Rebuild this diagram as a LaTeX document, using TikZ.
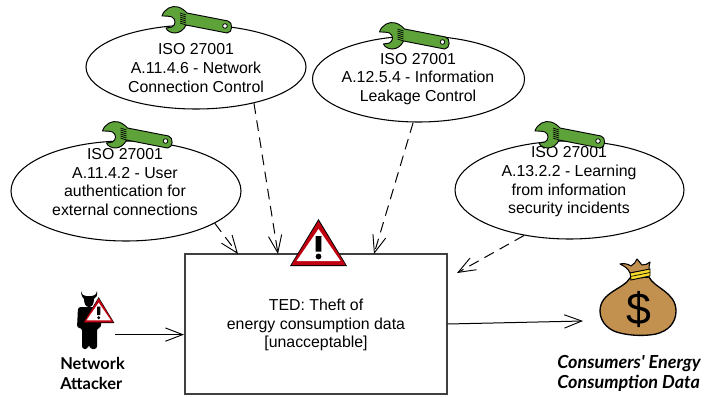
\documentclass[tikz,border=0pt]{standalone}
\usepackage{fontspec}
\setmainfont{Liberation Sans}
\newfontfamily\actorfont{Lato}
\usetikzlibrary{arrows.meta,shapes.geometric}

\definecolor{wrenchgreen}{HTML}{5DA33A}
\definecolor{warnred}{HTML}{C00010}
\definecolor{bagbrown}{HTML}{C29150}
\definecolor{tieyellow}{HTML}{F6D92B}

\tikzset{
	isoellipse/.style={draw, ellipse, line width=0.8pt, inner sep=0pt},
	isotext/.style={align=center, font=\fontsize{11.9}{14}\selectfont},
	actorlabel/.style={align=left, anchor=west, inner sep=0pt},
	openarrow/.style={-{Straight Barb[length=13pt, width=10pt, line width=0.7pt]}, line width=0.75pt},
	pics/wrench/.style={code={
		\draw[fill=wrenchgreen, line width=0.7pt, line join=round]
			(-13,-3) .. controls (-11,-10) and (-3,-14) .. (3,-12)
			.. controls (7,-11) and (10,-8) .. (12,-6) -- (53,2)
			.. controls (58,3) and (58,14) .. (52,14) -- (11,6)
			.. controls (9,11) and (4,14) .. (0,14)
			.. controls (-4,14) and (-8,12) .. (-9,9)
			-- (-3,8) .. controls (1,6) and (1,0) .. (-3,-2)
			.. controls (-6,-3) and (-10,-3) .. (-13,-3) -- cycle;
		\foreach \k in {-5,-3,-1,1,3,5} {
			\draw[line width=0.5pt] (5,\k-1) -- (11,\k+1);
		}
		\draw[fill=white, line width=0.6pt] (50,7) circle (2.3);
	}},
	pics/warnsign/.style={code={
		\fill (0,-47*#1) -- (28.5*#1,0) -- (-28.5*#1,0) -- cycle;
		\fill[warnred] (0,-45*#1) -- (27*#1,-1*#1) -- (-27*#1,-1*#1) -- cycle;
		\fill[white] (0,-37*#1) -- (22*#1,-5*#1) -- (-22*#1,-5*#1) -- cycle;
		\fill (-3*#1,-30*#1) -- (3*#1,-30*#1) -- (2.8*#1,-14.5*#1) -- (-2.8*#1,-14.5*#1) -- cycle;
		\fill (0,-9.5*#1) circle (2.9*#1);
	}},
}

\begin{document}
\begin{tikzpicture}[x=0.75pt, y=-0.75pt]
	\useasboundingbox (0,0) rectangle (705,396);

	% control ellipses
	\node[isoellipse, minimum width=165pt, minimum height=63pt] (e1) at (196,67) {};
	\node[isotext] (t1) at (196,68) {ISO 27001\\A.11.4.6 - Network\\Connection Control};
	\node[isoellipse, minimum width=159pt, minimum height=64.5pt] (e2) at (418.5,79) {};
	\node[isotext] (t2) at (418,79) {ISO 27001\\A.12.5.4 - Information\\Leakage Control};
	\node[isoellipse, minimum width=172.5pt, minimum height=75pt] (e3) at (126,191) {};
	\node[isotext] (t3) at (125,182) {ISO 27001\\A.11.4.2 - User\\authentication for\\external connections};
	\node[isoellipse, minimum width=171.75pt, minimum height=73.5pt] (e4) at (569.5,190) {};
	\node[isotext] (t4) at (569,182) {ISO 27001\\A.13.2.2 - Learning\\from information\\security incidents};

	% threat box
	\node[draw=black!75, line width=0.9pt, minimum width=196.5pt, minimum height=105pt, inner sep=0pt] (box) at (316,324) {};
	\node[isotext] (boxtext) at (316,325) {TED: Theft of\\energy consumption data\\{[}unacceptable{]}};

	% arrow ends
	\coordinate (a1) at (278,254);
	\coordinate (a2) at (374,254);
	\coordinate (a3) at (238,254);
	\coordinate (a4) at (457,273);
	\coordinate (atk) at (115,334.6);
	\coordinate (boxin) at (184,334.6);
	\coordinate (bagin) at (583,321);

	% connectors
	\foreach \from/\to in {e1.-32.5/a1, e2.-97/a2, e3.-20/a3, e4.-135/a4} {
		\draw[openarrow, dash pattern=on 8pt off 5pt] (\from) -- (\to);
	}
	\draw[openarrow] (atk) -- (boxin);
	\draw[openarrow] (box.east) -- (bagin);

	% wrenches
	\foreach \wx/\wy in {175/19, 392.5/35, 115.5/134, 548/134} {
		\pic at (\wx,\wy) {wrench};
	}

	% warning signs
	\pic at (318.5,266) {warnsign=1};

	% attacker
	\fill (81,291) .. controls (81,296) and (83,298) .. (84,299)
		.. controls (84,304) and (86,307) .. (89,307)
		.. controls (92,307) and (94,304) .. (94,299)
		.. controls (96,298) and (98,295) .. (97,291)
		.. controls (96,295) and (94,296) .. (92,296)
		-- (86,296) .. controls (84,296) and (82,295) .. (81,291) -- cycle;
	\fill[rounded corners=2] (78,307) -- (101,307) -- (101,328) -- (97,328) -- (97,349) -- (90,349) -- (90,345)
		-- (88,345) -- (88,349) -- (82,349) -- (82,328) -- (77,328) -- cycle;
	\pic at (98.7,323) {warnsign=0.55};
	\node[actorlabel, font=\actorfont\bfseries\fontsize{12.3}{15}\selectfont] (attacker) at (60,373) {Network\\Attacker};

	% data asset
	\draw[fill=bagbrown, line width=1pt] (630,278)
		.. controls (624,289) and (600,292) .. (600,311)
		.. controls (600,323) and (610,331) .. (620,333)
		.. controls (632,336) and (646,336) .. (656,334)
		.. controls (668,331) and (676,323) .. (676,311)
		.. controls (676,292) and (654,288) .. (649,277) -- cycle;
	\draw[fill=bagbrown, line width=0.8pt, line join=round] (630,273)
		.. controls (628,268) and (624,266) .. (620,264)
		.. controls (624,263) and (628,264) .. (631,266)
		.. controls (634,264) and (636,262) .. (637,259)
		.. controls (639,261) and (640,263) .. (642,265)
		.. controls (645,265) and (648,264) .. (650,262)
		.. controls (650,265) and (648,267) .. (649,270) -- cycle;
	\draw[fill=tieyellow, line width=0.7pt] (630,273) -- (650,269) -- (650,276) -- (631,280) -- cycle;
	\draw[line width=0.5pt] (630.5,276.5) -- (650,272.5);
	\node[font=\fontsize{33.5}{33.5}\selectfont, inner sep=0pt] (dollar) at (639,310) {\$};
	\node[actorlabel, font=\actorfont\bfseries\itshape\fontsize{13.5}{14.6}\selectfont] (asset) at (557,373.5) {Consumers' Energy\\Consumption Data};
\end{tikzpicture}
\end{document}
